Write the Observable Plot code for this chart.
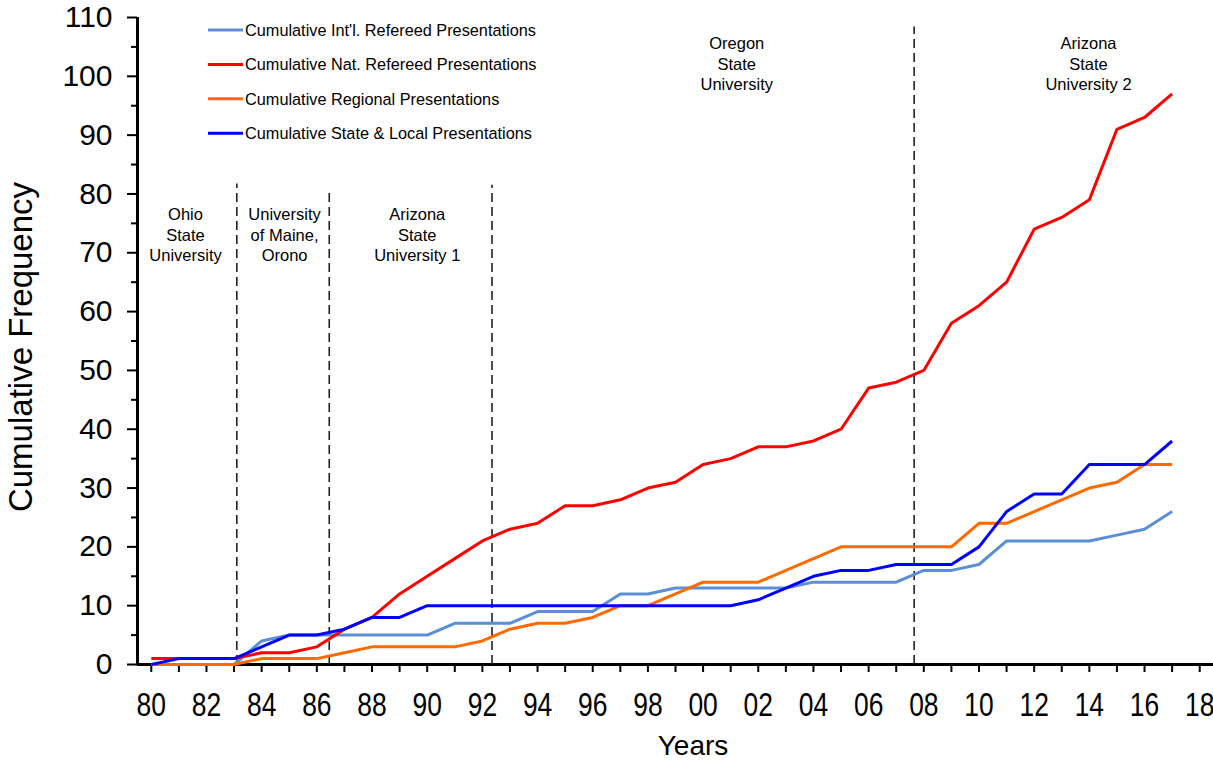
<!DOCTYPE html>
<html>
<head>
<meta charset="utf-8">
<script src="https://cdn.jsdelivr.net/npm/d3@7"></script>
<script src="https://cdn.jsdelivr.net/npm/@observablehq/plot@0.6"></script>
<style>
  html, body { margin: 0; padding: 0; background: #fff; }
  #wrap { position: relative; width: 1213px; height: 762px; overflow: hidden; }
  #overlay { position: absolute; left: 0; top: 0; pointer-events: none; }
</style>
</head>
<body>
<div id="wrap"></div>
<script>
// ---- data -------------------------------------------------------------
const years = d3.range(1980, 2018);

const seriesNames = [
  "Cumulative Int'l. Refereed Presentations",
  "Cumulative Nat. Refereed Presentations",
  "Cumulative Regional Presentations",
  "Cumulative State & Local Presentations"
];
const seriesColors = ["#5A8FD8", "#FF0000", "#FF6A00", "#0000FF"];

const intl = [0,0,0,0,4,5,5,5,5,5, 5,7,7,7,9,9,9,12,12,13, 13,13,13,13,14,14,14,14,16,16, 17,21,21,21,21,22,23,26];
const nat = [1,1,1,1,2,2,3,6,8,12, 15,18,21,23,24,27,27,28,30,31, 34,35,37,37,38,40,47,48,50,58, 61,65,74,76,79,91,93,97];
const regional = [0,0,0,0,1,1,1,2,3,3, 3,3,4,6,7,7,8,10,10,12, 14,14,14,16,18,20,20,20,20,20, 24,24,26,28,30,31,34,34];
const stateLocal = [0,1,1,1,3,5,5,6,8,8, 10,10,10,10,10,10,10,10,10,10, 10,10,11,13,15,16,16,17,17,17, 20,26,29,29,34,34,34,38];

const seriesValues = [intl, nat, regional, stateLocal];

// institution boundaries (year) and the height the dashed line reaches
const dividerYears = [1983.1, 1986.45, 1992.35, 2007.65];
const dividerTops = [81.7, 80.7, 81.5, 108.4];

// institution labels
const regionLabels = ["Ohio\nState\nUniversity", "University\nof Maine,\nOrono", "Arizona\nState\nUniversity 1", "Oregon\nState\nUniversity", "Arizona\nState\nUniversity 2"];
const regionX = [1981.24, 1984.83, 1989.64, 2001.22, 2013.97];
const regionY = [73.2, 73.2, 73.2, 102.2, 102.2];

// ticks
const xTickYears = d3.range(1980, 2019);
const xLabelYears = d3.range(1980, 2019, 2);
const yMajor = d3.range(0, 111, 10);
const yMinor = d3.range(5, 110, 10);

const xTitle = "Years";
const yTitle = "Cumulative Frequency";

// ---- build tables -----------------------------------------------------
const rows = [];
seriesValues.forEach((vals, si) => {
  vals.forEach((v, i) => rows.push({ series: seriesNames[si], year: years[i], value: v }));
});
const dividers = dividerYears.map((x, i) => ({ x, top: dividerTops[i] }));
const regions = regionLabels.map((t, i) => ({ label: t, x: regionX[i], y: regionY[i] }));

const FONT = "'Liberation Sans', Arial, Helvetica, sans-serif";

const chart = Plot.plot({
  width: 1213,
  height: 762,
  marginLeft: 137,
  marginRight: 0,
  marginTop: 17,
  marginBottom: 98,
  style: { fontFamily: FONT, background: "#fff", color: "#000" },
  x: { domain: [1979.5, 2018.5] },
  y: { domain: [0, 110] },
  color: { domain: seriesNames, range: seriesColors },
  marks: [
    // x ticks every year
    Plot.axisX(xTickYears, { tickSize: 8, strokeWidth: 2, text: null, label: null }),
    // x labels every two years
    Plot.axisX(xLabelYears, {
      tickSize: 0, tickPadding: 28, label: null,
      tickFormat: d => String(d % 100).padStart(2, "0"),
      fontSize: 33, fill: "#000", ariaLabel: "x-labels"
    }),
    // y ticks
    Plot.axisY(yMajor, { tickSize: 10, tickPadding: 15, strokeWidth: 2, fontSize: 30, label: null, fill: "#000" }),
    Plot.axisY(yMinor, { tickSize: 6, strokeWidth: 2, text: null, label: null }),
    // axis lines
    Plot.ruleX([1979.5], { stroke: "#000", strokeWidth: 3 }),
    Plot.ruleY([0], { stroke: "#000", strokeWidth: 3 }),
    // institution dividers
    Plot.ruleX(dividers, { x: "x", y1: 0, y2: "top", stroke: "#222", strokeWidth: 1.6, strokeDasharray: "9,5" }),
    // series lines
    Plot.line(rows, { x: "year", y: "value", z: "series", stroke: "series", strokeWidth: 3, strokeLinejoin: "miter", strokeLinecap: "butt" }),
    // institution labels
    Plot.text(regions, { x: "x", y: "y", text: "label", fontSize: 16.5, lineHeight: 1.24, fill: "#000", fontFamily: FONT })
  ]
});

const wrap = document.getElementById("wrap");
wrap.appendChild(chart);

// condense the x tick labels horizontally (the reference uses a narrow face)
d3.select(chart).selectAll("text").each(function () {
  const p = this.parentNode;
  const lab = p && p.getAttribute && (p.getAttribute("aria-label") || "");
  if (!/x-labels|x-axis tick label/.test(lab)) return;
  if (!/^\d\d$/.test(this.textContent)) return;
  const t = this.getAttribute("transform");
  if (t) {
    this.setAttribute("transform", t + " scale(0.8,1)");
  } else {
    const x = +this.getAttribute("x") || 0;
    this.setAttribute("transform", `translate(${x},0) scale(0.8,1) translate(${-x},0)`);
  }
});

// ---- overlay: legend and axis titles ---------------------------------
const ov = d3.select(wrap).append("svg")
  .attr("id", "overlay")
  .attr("width", 1213).attr("height", 762);
const items = ov.selectAll("g.item").data(seriesNames).join("g")
  .attr("class", "item")
  .attr("transform", (d, i) => `translate(208, ${30 + i * 34.4})`);
items.append("line")
  .attr("x1", 0).attr("x2", 35).attr("y1", 0).attr("y2", 0)
  .attr("stroke", (d, i) => seriesColors[i]).attr("stroke-width", 3);
items.append("text")
  .attr("x", 37).attr("y", 0).attr("dy", "0.35em")
  .attr("font-family", FONT).attr("font-size", 16.3).attr("fill", "#000")
  .text(d => d);

ov.append("text")
  .attr("x", 693).attr("y", 755)
  .attr("text-anchor", "middle")
  .attr("font-family", FONT).attr("font-size", 28).attr("fill", "#000")
  .text(xTitle);
ov.append("text")
  .attr("transform", "translate(31.5,347) rotate(-90)")
  .attr("text-anchor", "middle")
  .attr("font-family", FONT).attr("font-size", 33).attr("fill", "#000")
  .text(yTitle);
</script>
</body>
</html>
